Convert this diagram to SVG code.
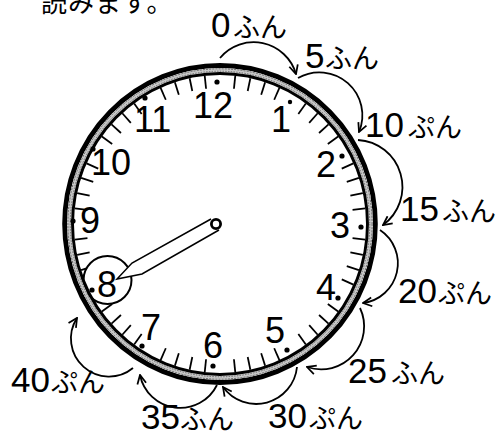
<svg xmlns="http://www.w3.org/2000/svg" xmlns:xlink="http://www.w3.org/1999/xlink" width="502" height="434" viewBox="0 0 502 434">
<style>
.tick{stroke:#000;stroke-width:1.8}
.num{font-family:"Liberation Sans",Arial,sans-serif;font-size:36px;fill:#000}
.dg{font-family:"Liberation Sans",Arial,sans-serif;font-size:35px}
.kn{font-family:"Noto Sans CJK JP",sans-serif;font-size:27px}
.lbl{fill:#000}
.arc{fill:none;stroke:#000;stroke-width:1.8;marker-end:url(#ah)}
.dot{fill:#000}
</style>
<defs>
<marker id="ah" viewBox="0 0 10 10" refX="9" refY="5" markerWidth="11" markerHeight="11" markerUnits="userSpaceOnUse" orient="auto">
<path d="M1,1 L9,5 L1,9" fill="none" stroke="#000" stroke-width="1.6"/>
</marker>
<line id="t" class="tick" x1="0" y1="-136" x2="0" y2="-149"/>
</defs>
<rect width="502" height="434" fill="#fff"/>
<text x="41" y="12" font-family="'Noto Sans CJK JP',sans-serif" font-size="26" letter-spacing="1">読みます。</text>

<g id="clock">
<g id="ticks" transform="translate(220,224) scale(0.98,1)">
<use xlink:href="#t" transform="rotate(6)"/><use xlink:href="#t" transform="rotate(12)"/><use xlink:href="#t" transform="rotate(18)"/><use xlink:href="#t" transform="rotate(24)"/>
<use xlink:href="#t" transform="rotate(36)"/><use xlink:href="#t" transform="rotate(42)"/><use xlink:href="#t" transform="rotate(48)"/><use xlink:href="#t" transform="rotate(54)"/>
<use xlink:href="#t" transform="rotate(66)"/><use xlink:href="#t" transform="rotate(72)"/><use xlink:href="#t" transform="rotate(78)"/><use xlink:href="#t" transform="rotate(84)"/>
<use xlink:href="#t" transform="rotate(96)"/><use xlink:href="#t" transform="rotate(102)"/><use xlink:href="#t" transform="rotate(108)"/><use xlink:href="#t" transform="rotate(114)"/>
<use xlink:href="#t" transform="rotate(126)"/><use xlink:href="#t" transform="rotate(132)"/><use xlink:href="#t" transform="rotate(138)"/><use xlink:href="#t" transform="rotate(144)"/>
<use xlink:href="#t" transform="rotate(156)"/><use xlink:href="#t" transform="rotate(162)"/><use xlink:href="#t" transform="rotate(168)"/><use xlink:href="#t" transform="rotate(174)"/>
<use xlink:href="#t" transform="rotate(186)"/><use xlink:href="#t" transform="rotate(192)"/><use xlink:href="#t" transform="rotate(198)"/><use xlink:href="#t" transform="rotate(204)"/>
<use xlink:href="#t" transform="rotate(216)"/><use xlink:href="#t" transform="rotate(222)"/><use xlink:href="#t" transform="rotate(228)"/><use xlink:href="#t" transform="rotate(234)"/>
<use xlink:href="#t" transform="rotate(246)"/><use xlink:href="#t" transform="rotate(252)"/><use xlink:href="#t" transform="rotate(258)"/><use xlink:href="#t" transform="rotate(264)"/>
<use xlink:href="#t" transform="rotate(276)"/><use xlink:href="#t" transform="rotate(282)"/><use xlink:href="#t" transform="rotate(288)"/><use xlink:href="#t" transform="rotate(294)"/>
<use xlink:href="#t" transform="rotate(306)"/><use xlink:href="#t" transform="rotate(312)"/><use xlink:href="#t" transform="rotate(318)"/><use xlink:href="#t" transform="rotate(324)"/>
<use xlink:href="#t" transform="rotate(336)"/><use xlink:href="#t" transform="rotate(342)"/><use xlink:href="#t" transform="rotate(348)"/><use xlink:href="#t" transform="rotate(354)"/>
</g>
<circle id="ring8" cx="107.5" cy="280" r="24" fill="#fff" stroke="#000" stroke-width="2"/>
<g id="ring" transform="translate(220,224) scale(0.98,1)" fill="none">
<circle r="158.5" stroke="#000" stroke-width="5"/>
<circle r="154" stroke="#c8c8c8" stroke-width="4"/>
<circle r="155.2" stroke="#666" stroke-width="1" stroke-dasharray="2 1.2"/>
<circle r="152.8" stroke="#666" stroke-width="1" stroke-dasharray="1.4 1.4"/>
<circle r="150.5" stroke="#000" stroke-width="3"/>
</g>
<g id="dots">
<circle class="dot" cx="217" cy="82" r="2.6"/><circle class="dot" cx="290" cy="102" r="2.2"/>
<circle class="dot" cx="342" cy="156" r="2.6"/><circle class="dot" cx="361" cy="227" r="2.6"/>
<circle class="dot" cx="338" cy="298" r="2.6"/><circle class="dot" cx="287" cy="350" r="2.6"/>
<circle class="dot" cx="213" cy="366" r="2.6"/><circle class="dot" cx="142" cy="346" r="2.6"/>
<circle class="dot" cx="92" cy="290" r="2.6"/><circle class="dot" cx="73" cy="221" r="2.6"/>
<circle class="dot" cx="93" cy="149" r="2.6"/><circle class="dot" cx="145" cy="98" r="2.6"/>
</g>
<g id="numbers" class="num">
<text x="193" y="118">12</text>
<text x="271" y="132">1</text>
<text x="316" y="177">2</text>
<text x="330" y="238">3</text>
<text x="316" y="300">4</text>
<text x="265" y="343">5</text>
<text x="203" y="358">6</text>
<text x="141" y="340">7</text>
<text x="97" y="297">8</text>
<text x="80" y="233">9</text>
<text x="91" y="175">10</text>
<text x="134" y="132">11</text>
</g>
<g id="hand">
<path d="M211,219 L132,263 L117,279 L142,274 L219,230" fill="#fff" stroke="#000" stroke-width="1.5" stroke-linejoin="miter"/>
<circle cx="216" cy="224" r="4.6" fill="#fff" stroke="#000" stroke-width="2.8"/>
</g>
</g>

<g id="connectors">
<path class="arc" d="M220,58 A44,44 0 0 1 296,74"/>
<path class="arc" d="M298,78 A43,43 0 0 1 359,132"/>
<path class="arc" d="M358,140 A47,47 0 0 1 383,225"/>
<path class="arc" d="M380,230 A40,40 0 0 1 363,303"/>
<path class="arc" d="M360,308 A43,43 0 0 1 307,367"/>
<path class="arc" d="M297,367 A41,41 0 0 1 223,387"/>
<path class="arc" d="M217,385 A41,41 0 0 1 140,375"/>
<path class="arc" d="M133,368 A38,38 0 0 1 77,318"/>
</g>

<g id="labels" class="lbl">
<g id="l0"><text><tspan class="dg" x="211" y="37">0</tspan><tspan class="kn" x="233" y="37">ふん</tspan></text></g>
<g id="l5"><text><tspan class="dg" x="305" y="68">5</tspan><tspan class="kn" x="325" y="68">ふん</tspan></text></g>
<g id="l10"><text><tspan class="dg" x="365" y="137">10</tspan><tspan class="kn" x="408" y="137">ぷん</tspan></text></g>
<g id="l15"><text><tspan class="dg" x="400" y="221">15</tspan><tspan class="kn" x="442" y="221">ふん</tspan></text></g>
<g id="l20"><text><tspan class="dg" x="398" y="303">20</tspan><tspan class="kn" x="438" y="303">ぷん</tspan></text></g>
<g id="l25"><text><tspan class="dg" x="348" y="383">25</tspan><tspan class="kn" x="391" y="383">ふん</tspan></text></g>
<g id="l30"><text><tspan class="dg" x="268" y="428">30</tspan><tspan class="kn" x="309" y="428">ぷん</tspan></text></g>
<g id="l35"><text><tspan class="dg" x="141" y="429">35</tspan><tspan class="kn" x="180" y="429">ふん</tspan></text></g>
<g id="l40"><text><tspan class="dg" x="11" y="392">40</tspan><tspan class="kn" x="51" y="392">ぷん</tspan></text></g>
</g>
</svg>
